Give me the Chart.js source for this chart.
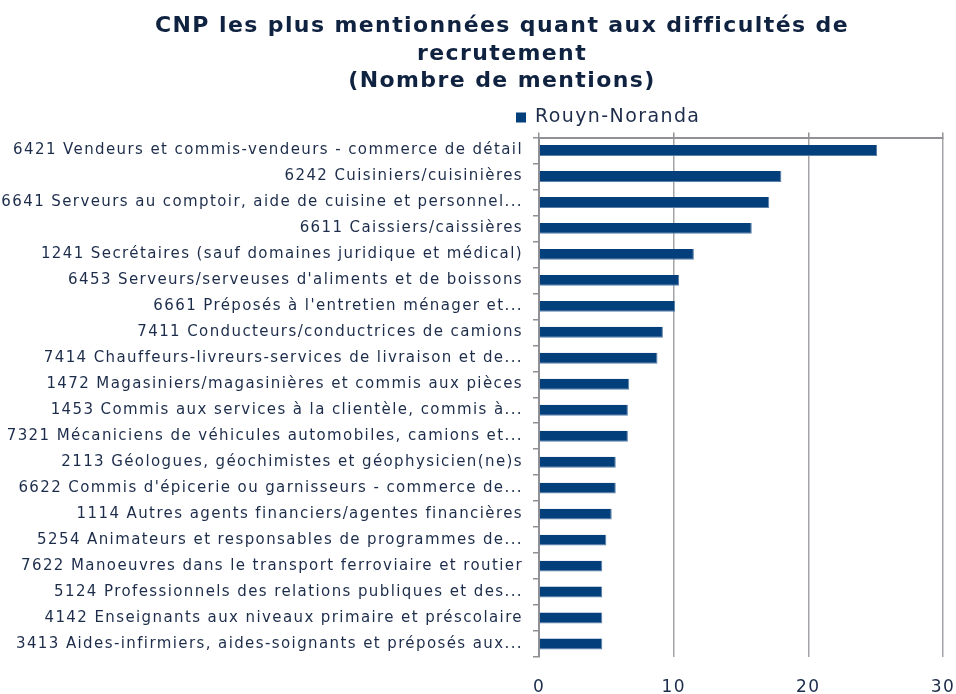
<!DOCTYPE html>
<html>
<head>
<meta charset="utf-8">
<script src="https://cdn.jsdelivr.net/npm/chart.js@4/dist/chart.umd.min.js"></script>
<style>
  html, body { margin: 0; padding: 0; background: #fff; }
  #wrap { width: 956px; height: 694px; position: relative; }
</style>
</head>
<body>
<div id="wrap"><canvas id="cnp-chart"></canvas></div>
<script>
// data
const titleLines = [
    'CNP les plus mentionnées quant aux difficultés de',
    'recrutement',
    '(Nombre de mentions)'
];
const seriesName = 'Rouyn-Noranda';
const categories = [
    '6421 Vendeurs et commis-vendeurs - commerce de détail',
    '6242 Cuisiniers/cuisinières',
    '6641 Serveurs au comptoir, aide de cuisine et personnel...',
    '6611 Caissiers/caissières',
    '1241 Secrétaires (sauf domaines juridique et médical)',
    '6453 Serveurs/serveuses d\'aliments et de boissons',
    '6661 Préposés à l\'entretien ménager et...',
    '7411 Conducteurs/conductrices de camions',
    '7414 Chauffeurs-livreurs-services de livraison et de...',
    '1472 Magasiniers/magasinières et commis aux pièces',
    '1453 Commis aux services à la clientèle, commis à...',
    '7321 Mécaniciens de véhicules automobiles, camions et...',
    '2113 Géologues, géochimistes et géophysicien(ne)s',
    '6622 Commis d\'épicerie ou garnisseurs - commerce de...',
    '1114 Autres agents financiers/agentes financières',
    '5254 Animateurs et responsables de programmes de...',
    '7622 Manoeuvres dans le transport ferroviaire et routier',
    '5124 Professionnels des relations publiques et des...',
    '4142 Enseignants aux niveaux primaire et préscolaire',
    '3413 Aides-infirmiers, aides-soignants et préposés aux...'
];
const mentions = [25.1, 18.0, 17.1, 15.8, 11.5, 10.4, 10.1, 9.2, 8.8, 6.7,
                  6.6, 6.6, 5.7, 5.7, 5.4, 5.0, 4.7, 4.7, 4.7, 4.7];
const xTicks = [0, 10, 20, 30];

const barColor = '#023f7b';
const textColor = '#1c2c4a';
const lineColor = '#8f9196';

// the original's text is spaced out a little, like an Excel export
const spacedText = {
    id: 'spacedText',
    beforeDraw(chart) { chart.ctx.letterSpacing = '1.4px'; }
};

// title is centred a bit right of the page middle in the original
const titleShift = {
    id: 'titleShift',
    afterLayout(chart) { if (chart.titleBlock) chart.titleBlock.left = 61; }
};

// Excel-style legend, placed a bit left of the plot
const legendBox = {
    id: 'legendBox',
    afterDraw(chart) {
        const { ctx, chartArea } = chart;
        const x = chartArea.left - 23, y = chartArea.top - 20;
        ctx.save();
        ctx.fillStyle = barColor;
        ctx.fillRect(x, y - 5, 10, 10);
        ctx.fillStyle = textColor;
        ctx.font = '19px "DejaVu Sans"';
        ctx.textBaseline = 'middle';
        ctx.textAlign = 'left';
        ctx.fillText(chart.data.datasets[0].label, x + 19, y);
        ctx.restore();
    }
};

new Chart(document.getElementById('cnp-chart'), {
    type: 'bar',
    data: {
        labels: categories,
        datasets: [{
            label: seriesName,
            data: mentions,
            backgroundColor: barColor,
            borderColor: '#5b7fa8',
            borderWidth: { top: 0, left: 0, right: 1, bottom: 1 },
            barPercentage: 0.42,
            categoryPercentage: 1
        }]
    },
    options: {
        indexAxis: 'y',
        responsive: true,
        maintainAspectRatio: false,
        animation: false,
        layout: { padding: { left: 0, right: 13, top: 13, bottom: 0 } },
        plugins: {
            legend: { display: false },
            tooltip: { enabled: false },
            title: {
                display: true,
                text: titleLines,
                color: '#0f2240',
                font: { family: 'DejaVu Sans', size: 22, weight: 'bold', lineHeight: 1.25 },
                padding: { top: 0, bottom: 37 }
            }
        },
        scales: {
            x: {
                position: 'bottom',
                min: 0, max: 30,
                afterBuildTicks: s => { s.ticks = xTicks.map(v => ({ value: v })); },
                afterFit: s => { s.height = 37; s.paddingLeft = 0; s.paddingRight = 0; },
                border: { display: false },
                grid: { color: '#a3a4a8', lineWidth: 1.5, drawTicks: false },
                ticks: { color: textColor, padding: 20, font: { family: 'DejaVu Sans', size: 17 } }
            },
            x2: {
                position: 'top',
                min: 0, max: 30,
                afterBuildTicks: s => { s.ticks = xTicks.map(v => ({ value: v })); },
                afterFit: s => { s.height = 5; s.paddingLeft = 0; s.paddingRight = 0; },
                border: { display: true, color: lineColor, width: 2 },
                grid: { drawOnChartArea: false, color: lineColor, tickLength: 5, lineWidth: 1.5 },
                ticks: { display: false }
            },
            y: {
                afterFit: s => { s.width = 539; s.paddingTop = 0; s.paddingBottom = 0; },
                border: { display: true, color: lineColor, width: 2 },
                grid: { drawOnChartArea: false, offset: true, color: lineColor, tickLength: 6, lineWidth: 1.5 },
                ticks: { color: textColor, padding: 10, autoSkip: false, font: { family: 'DejaVu Sans', size: 15 } }
            }
        }
    },
    plugins: [spacedText, titleShift, legendBox]
});
</script>
</body>
</html>
